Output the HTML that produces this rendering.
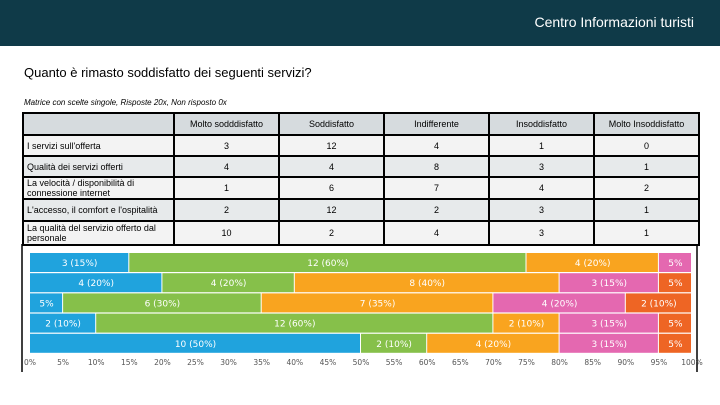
<!DOCTYPE html>
<html><head><meta charset="utf-8"><style>
body{margin:0;width:720px;height:405px;background:#fff;position:relative;overflow:hidden;font-family:"Liberation Sans",sans-serif;}
#hdr{position:absolute;left:0;top:0;width:720px;height:46px;background:#0f3a48;}
#hdr span{position:absolute;right:26px;top:14px;color:#fff;font-size:14px;}
#q{position:absolute;left:24px;top:65px;font-size:13px;color:#000;}
#sub{position:absolute;left:24px;top:98px;font-size:8px;font-style:italic;color:#000;}
table{position:absolute;left:22px;top:112px;border-collapse:collapse;font-size:9px;}
td{border:2px solid #000;padding:0 3px;text-align:center;}
td.l{text-align:left;width:143px;line-height:10px;}
td.c{width:97px;}
tr.h td{background:#d6dbde;}
tr.a td{background:#f3f3f3;}
tr.b td{background:#e7eaeb;}
</style></head><body>
<div id="hdr"><span>Centro Informazioni turisti</span></div>
<div id="q">Quanto è rimasto soddisfatto dei seguenti servizi?</div>
<div id="sub">Matrice con scelte singole, Risposte 20x, Non risposto 0x</div>
<table>
<tr class="h" style="height:22px"><td class="l"></td><td class="c">Molto sodddisfatto</td><td class="c">Soddisfatto</td><td class="c">Indifferente</td><td class="c">Insoddisfatto</td><td class="c">Molto Insoddisfatto</td></tr>
<tr class="a" style="height:21px"><td class="l">I servizi sull'offerta</td><td>3</td><td>12</td><td>4</td><td>1</td><td>0</td></tr>
<tr class="b" style="height:21px"><td class="l">Qualità dei servizi offerti</td><td>4</td><td>4</td><td>8</td><td>3</td><td>1</td></tr>
<tr class="a" style="height:22px"><td class="l">La velocità / disponibilità di connessione internet</td><td>1</td><td>6</td><td>7</td><td>4</td><td>2</td></tr>
<tr class="b" style="height:22px"><td class="l">L'accesso, il comfort e l'ospitalità</td><td>2</td><td>12</td><td>2</td><td>3</td><td>1</td></tr>
<tr class="a" style="height:24px"><td class="l">La qualità del servizio offerto dal personale</td><td>10</td><td>2</td><td>4</td><td>3</td><td>1</td></tr>
</table>
<svg id="chart" width="720" height="405" style="position:absolute;left:0;top:0"></svg>
<script>
const categories=["I servizi sull'offerta","Qualità dei servizi offerti","La velocità / disponibilità di connessione internet","L'accesso, il comfort e l'ospitalità","La qualità del servizio offerto dal personale"];
const s1=[3,4,1,2,10];
const s2=[12,4,6,12,2];
const s3=[4,8,7,2,4];
const s4=[1,3,4,3,3];
const s5=[0,1,2,1,1];
const tickLabels=["0%","5%","10%","15%","20%","25%","30%","35%","40%","45%","50%","55%","60%","65%","70%","75%","80%","85%","90%","95%","100%"];
const series=[s1,s2,s3,s4,s5];
const colors=["#20a3dd","#86c04a","#f9a41f","#e468b0","#ee6524"];
const NS="http://www.w3.org/2000/svg";
const svg=document.getElementById('chart');
const x0=30,x1=692,yTop=253,step=20.2,bh=19;
const xs=p=>x0+(x1-x0)*p/100;
const ys=i=>yTop+i*step;
function mk(t,a){const e=document.createElementNS(NS,t);for(const k in a)e.setAttribute(k,a[k]);svg.appendChild(e);return e;}
let fr=mk('line',{x1:22,y1:244,x2:22,y2:372,stroke:'#000','stroke-width':1.5});


let fr2=mk('line',{x1:697,y1:244,x2:697,y2:372,stroke:'#000','stroke-width':1.5});


categories.forEach((c,i)=>{
  const tot=series.reduce((a,s)=>a+s[i],0);
  let acc=0;
  series.forEach((s,j)=>{
    const v=s[i];if(!v)return;
    const p0=acc/tot*100,p1=(acc+v)/tot*100;acc+=v;
    const r=mk('rect',{x:xs(p0),y:ys(i),width:xs(p1)-xs(p0)-1,height:bh,fill:colors[j]});
    
    
    const pct=Math.round(v/tot*100);
    const lbl=pct<=5?pct+'%':v+' ('+pct+'%)';
    const t=mk('text',{x:(xs(p0)+xs(p1))/2,y:ys(i)+13,fill:'#fff','font-size':9,'text-anchor':'middle','font-family':'DejaVu Sans, sans-serif'});
    t.textContent=lbl;
    
    
  });
});
tickLabels.forEach((l,k)=>{
  const t=mk('text',{x:xs(k*5),y:365,fill:'#555','font-size':7.5,'text-anchor':'middle','font-family':'DejaVu Sans, sans-serif'});
  t.textContent=l;
  
  
});
</script>
</body></html>
